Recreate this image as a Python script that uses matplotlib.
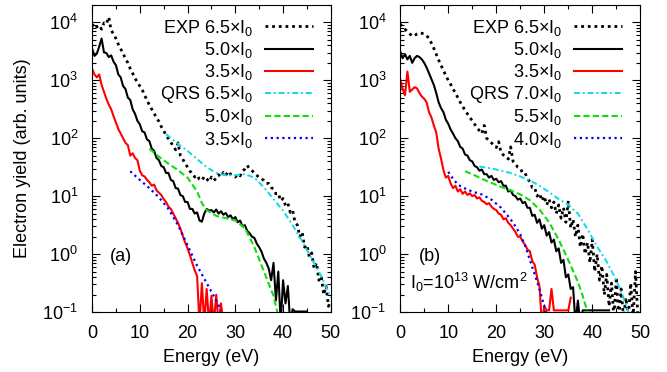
import numpy as np
import matplotlib
matplotlib.use('Agg')
import matplotlib.pyplot as plt
from matplotlib.ticker import MultipleLocator, LogLocator, NullFormatter

plt.rcParams['font.family'] = ['Liberation Sans', 'DejaVu Sans']
plt.rcParams['mathtext.fontset'] = 'custom'
plt.rcParams['mathtext.rm'] = 'Liberation Sans'
plt.rcParams['mathtext.it'] = 'Liberation Sans:italic'
plt.rcParams['mathtext.default'] = 'regular'
plt.rcParams['axes.unicode_minus'] = False

nan = np.nan

# energy grid of the measured spectra (eV)
energy_exp = np.arange(0, 50.5, 0.5)

# ---- panel (a): log10 of electron yield ----
exp65_a = [3.93, 3.98, 3.92, 3.95, 3.88, 3.99, 3.97, 4.09, 3.86, 3.80,
           3.72, 3.62, 3.54, 3.46, 3.37, 3.30, 3.20, 3.12, 3.03, 2.97,
           2.90, 2.84, 2.74, 2.66, 2.57, 2.50, 2.43, 2.35, 2.29, 2.20,
           2.13, 2.05, 1.99, 1.93, 1.86, 1.80, 1.92, 1.70, 1.64, 1.56,
           1.50, 1.43, 1.40, 1.33, 1.36, 1.29, 1.27, 1.34, 1.30, 1.25,
           1.33, 1.27, 1.31, 1.37, 1.33, 1.41, 1.36, 1.43, 1.38, 1.35,
           1.33, 1.38, 1.35, 1.43, 1.47, 1.53, 1.47, 1.44, 1.40, 1.36,
           1.32, 1.30, 1.27, 1.22, 1.22, 1.15, 1.12, 1.04, 1.05, 0.92,
           0.96, 0.84, 0.88, 0.72, 0.76, 0.55, 0.50, 0.30, 0.38, 0.12,
           0.16, -0.05, 0.02, -0.25, -0.15, -0.45, -0.38, -0.70, -0.55, -0.90,
           -0.80]
exp50_a = [3.55, 3.42, 3.46, 3.58, 3.72, 3.48, 3.47, 3.40, 3.43, 3.32,
           3.26, 3.10, 3.05, 2.90, 2.85, 2.70, 2.66, 2.50, 2.42, 2.30,
           2.24, 2.12, 2.10, 1.98, 1.95, 1.82, 1.78, 1.66, 1.62, 1.52,
           1.50, 1.40, 1.40, 1.28, 1.26, 1.14, 1.13, 1.02, 1.00, 0.90,
           0.90, 0.78, 0.78, 0.70, 0.72, 0.58, 0.56, 0.70, 0.78, 0.75,
           0.76, 0.72, 0.77, 0.70, 0.74, 0.68, 0.71, 0.64, 0.67, 0.60,
           0.64, 0.55, 0.58, 0.48, 0.50, 0.40, 0.36, 0.30, 0.28, 0.18,
           0.12, 0.04, -0.08, -0.15, -0.25, -0.45, -0.15, -0.80, -0.30, -1.20,
           -0.45, -0.85, -0.55, -1.20, -0.95, -0.99, -0.99, -0.99, -0.99, -0.99,
           -0.99, nan, nan, nan, nan, nan, nan, nan, nan, nan,
           nan]
exp35_a = [3.20, 3.10, 3.05, 3.10, 2.92, 2.80, 2.68, 2.58, 2.50, 2.38,
           2.27, 2.16, 2.08, 2.00, 1.92, 1.88, 1.70, 1.74, 1.66, 1.62,
           1.44, 1.36, 1.34, 1.28, 1.24, 1.18, 1.20, 1.10, 1.06, 1.02,
           0.95, 0.90, 0.82, 0.78, 0.70, 0.62, 0.54, 0.44, 0.32, 0.20,
           0.10, -0.02, -0.15, -0.28, -0.38, -1.20, -0.50, -1.20, -0.60, -1.20,
           -0.72, -1.20, -0.70, -1.20, -0.85, -1.20, nan, nan, nan, nan,
           nan, nan, nan, nan, nan, nan, nan, nan, nan, nan,
           nan, nan, nan, nan, nan, nan, nan, nan, nan, nan,
           nan, nan, nan, nan, nan, nan, nan, nan, nan, nan,
           nan, nan, nan, nan, nan, nan, nan, nan, nan, nan,
           nan]

qrs65_a_e = [15.5, 18, 20, 22, 24, 26, 28, 30, 32, 34, 36, 38, 40, 42, 44, 46, 48, 50]
qrs65_a = [2.07, 1.90, 1.78, 1.64, 1.50, 1.40, 1.36, 1.36, 1.38, 1.32, 1.15, 0.95,
           0.75, 0.50, 0.22, -0.08, -0.38, -0.75]
qrs50_a_e = [12, 14, 16, 18, 20, 22, 23, 24, 26, 28, 30, 32, 34, 36, 38, 38.8]
qrs50_a = [1.82, 1.68, 1.56, 1.45, 1.32, 1.08, 0.88, 0.76, 0.66, 0.62, 0.58, 0.45,
           0.12, -0.30, -0.72, -1.00]
qrs35_a_e = [8, 10, 12, 14, 16, 18, 20, 22, 24, 25, 26, 27]
qrs35_a = [1.43, 1.28, 1.14, 0.98, 0.78, 0.50, 0.15, -0.20, -0.50, -0.65, -0.80, -0.97]

# ---- panel (b): log10 of electron yield ----
exp65_b = [3.97, 3.92, 3.88, 3.84, 3.80, 3.76, 3.77, 3.80, 3.82, 3.81,
           3.80, 3.77, 3.72, 3.64, 3.55, 3.45, 3.35, 3.26, 3.17, 3.08,
           3.00, 2.93, 2.85, 2.78, 2.70, 2.62, 2.55, 2.48, 2.42, 2.36,
           2.30, 2.24, 2.18, 2.13, 2.08, 2.22, 2.00, 1.96, 1.92, 1.88,
           1.84, 1.94, 1.75, 1.71, 1.68, 1.64, 1.85, 1.60, 1.55, 1.50,
           1.48, 1.40, 1.40, 1.30, 1.25, 1.15, 1.15, 1.00, 1.05, 0.92,
           1.00, 0.85, 0.95, 0.80, 0.90, 0.70, 0.85, 0.62, 0.80, 0.55,
           0.92, 0.45, 0.60, 0.30, 0.50, 0.12, 0.35, 0.00, 0.20, -0.15,
           0.25, -0.30, 0.00, -0.45, -0.20, -0.70, -0.35, -0.90, -0.50, -1.10,
           -0.40, -1.10, -0.60, -1.10, -0.75, -1.10, -0.50, -1.10, -0.30, -1.10,
           nan]
exp50_b = [3.50, 3.38, 3.45, 3.36, 3.42, 3.30, 3.38, 3.42, 3.40, 3.36,
           3.30, 3.22, 3.12, 3.02, 2.92, 2.78, 2.62, 2.52, 2.45, 2.32,
           2.25, 2.15, 2.08, 2.00, 1.95, 1.85, 1.82, 1.72, 1.70, 1.62,
           1.60, 1.52, 1.50, 1.44, 1.46, 1.38, 1.38, 1.32, 1.35, 1.28,
           1.30, 1.24, 1.26, 1.18, 1.18, 1.08, 1.10, 1.02, 1.00, 0.94,
           0.96, 0.88, 0.90, 0.80, 0.80, 0.66, 0.68, 0.54, 0.60, 0.44,
           0.50, 0.32, 0.38, 0.20, 0.25, 0.05, 0.10, -0.15, -0.10, -0.40,
           -0.35, -0.60, -0.57, -1.20, -0.80, -1.20, -0.97, -0.97, -0.97, -0.97,
           -0.97, -0.97, -0.97, -0.97, -0.97, -0.97, -0.97, -0.97, nan, nan,
           nan, nan, nan, nan, nan, nan, nan, nan, nan, nan,
           nan]
exp35_b = [3.02, 2.85, 2.74, 3.15, 2.80, 2.84, 2.88, 2.86, 2.78, 2.72,
           2.68, 2.62, 2.45, 2.36, 2.22, 2.10, 1.82, 1.65, 1.45, 1.32,
           1.35, 1.22, 1.14, 1.18, 1.08, 1.12, 1.04, 1.08, 1.02, 1.05,
           1.00, 1.02, 0.96, 0.98, 0.92, 0.90, 0.86, 0.88, 0.82, 0.78,
           0.76, 0.70, 0.68, 0.60, 0.62, 0.54, 0.50, 0.44, 0.38, 0.30,
           0.30, 0.22, 0.16, 0.08, 0.05, -0.12, -0.18, -0.40, -0.55, -1.20,
           -0.90, -0.97, -0.97, -0.60, -0.97, -0.97, -0.97, -0.97, -0.97, -0.97,
           -0.97, -0.75, nan, nan, nan, nan, nan, nan, nan, nan,
           nan, nan, nan, nan, nan, nan, nan, nan, nan, nan,
           nan, nan, nan, nan, nan, nan, nan, nan, nan, nan,
           nan]

qrs70_b_e = [16.5, 19, 21, 23, 25, 27, 29, 31, 33, 35, 37, 39, 41, 43, 45, 46.5, 47.5]
qrs70_b = [1.51, 1.48, 1.44, 1.40, 1.34, 1.27, 1.18, 1.07, 0.95, 0.85, 0.70, 0.43,
           0.13, -0.13, -0.45, -0.75, -1.00]
qrs55_b_e = [13.5, 15, 17, 19, 21, 23, 25, 27, 29, 31, 33, 35, 37, 38, 39]
qrs55_b = [1.43, 1.38, 1.30, 1.23, 1.16, 1.10, 1.03, 0.93, 0.77, 0.55, 0.25, -0.10,
           -0.48, -0.72, -1.00]
qrs40_b_e = [10, 11, 12, 13, 15, 17, 19, 21, 23, 24, 25, 26, 27, 28, 29, 30, 30.3]
qrs40_b = [1.42, 1.30, 1.20, 1.15, 1.08, 1.03, 0.94, 0.80, 0.60, 0.48, 0.34, 0.15,
           -0.10, -0.35, -0.60, -0.90, -1.00]

labels_a = ['EXP 6.5×I$_0$', '5.0×I$_0$', '3.5×I$_0$',
            'QRS 6.5×I$_0$', '5.0×I$_0$', '3.5×I$_0$']
labels_b = ['EXP 6.5×I$_0$', '5.0×I$_0$', '3.5×I$_0$',
            'QRS 7.0×I$_0$', '5.5×I$_0$', '4.0×I$_0$']

styles = [dict(color='black', lw=2.0, ls=(0, (1, 1.4))),
          dict(color='black', lw=1.5, ls='-'),
          dict(color='#ff0000', lw=1.5, ls='-'),
          dict(color='#10d8e8', lw=1.4, ls=(0, (3, 1.5, 1, 1.5))),
          dict(color='#10dd10', lw=1.5, ls=(0, (3, 1.5))),
          dict(color='#0000ff', lw=1.6, ls=(0, (1, 1.6)))]

FS = 13

fig = plt.figure(figsize=(6.67, 3.72), dpi=100)
ax_a = fig.add_axes([0.138, 0.161, 0.358, 0.826])
ax_b = fig.add_axes([0.600, 0.161, 0.360, 0.826])

panels = [
    (ax_a, [(energy_exp, exp65_a), (energy_exp, exp50_a), (energy_exp, exp35_a),
            (qrs65_a_e, qrs65_a), (qrs50_a_e, qrs50_a), (qrs35_a_e, qrs35_a)], labels_a),
    (ax_b, [(energy_exp, exp65_b), (energy_exp, exp50_b), (energy_exp, exp35_b),
            (qrs70_b_e, qrs70_b), (qrs55_b_e, qrs55_b), (qrs40_b_e, qrs40_b)], labels_b),
]

for ax, curves, labels in panels:
    for (e, lg), st, lab in zip(curves, styles, labels):
        ax.plot(e, np.power(10.0, np.array(lg, dtype=float)), label=lab, **st)
    ax.set_yscale('log')
    ax.set_xlim(0, 50)
    ax.set_ylim(0.1, 2.0e4)
    ax.xaxis.set_major_locator(MultipleLocator(10))
    ax.xaxis.set_minor_locator(MultipleLocator(5))
    ax.yaxis.set_major_locator(LogLocator(base=10, numticks=10))
    ax.yaxis.set_minor_locator(LogLocator(base=10, subs=np.arange(2, 10), numticks=20))
    ax.yaxis.set_minor_formatter(NullFormatter())
    ax.tick_params(which='both', direction='in', top=True, right=True, labelsize=FS)
    ax.tick_params(which='major', length=6, width=0.8)
    ax.tick_params(which='minor', length=3, width=0.8)
    ax.tick_params(axis='x', pad=9)
    ax.tick_params(axis='y', pad=10)
    ax.set_xlabel('Energy (eV)', fontsize=FS, labelpad=5)
    ax.legend(loc='upper right', bbox_to_anchor=(1 - 18 / 239, 0.958),
              frameon=False, markerfirst=False, fontsize=FS,
              handlelength=2.65, handletextpad=0.67, labelspacing=0.12,
              borderaxespad=0.0, borderpad=0.0)

ax_a.set_ylabel('Electron yield (arb. units)', fontsize=FS)
ax_a.yaxis.set_label_coords(-0.255, 0.5)
ax_a.text(6.1, 0.9, '(a)', fontsize=FS, ha='center', va='center')
ax_b.text(6.25, 0.9, '(b)', fontsize=FS, ha='center', va='center')
ax_b.text(2, 0.32, 'I$_0$=10$^{13}$ W/cm$^2$', fontsize=FS, ha='left', va='center')

fig.savefig('out.png', dpi=100)
